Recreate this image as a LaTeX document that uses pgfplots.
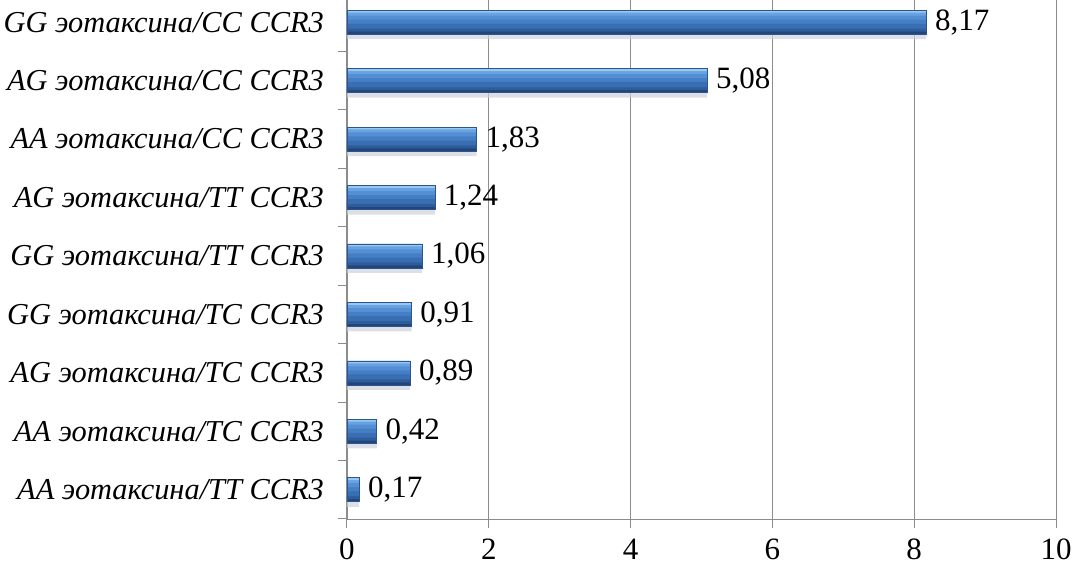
\documentclass[border=0pt]{standalone}
\usepackage{pgfplots}
\pgfplotsset{compat=1.18}
\usepackage{pgfplotstable}
\usepackage{fontspec}
\setmainfont[Script=Cyrillic,Language=Russian]{Liberation Serif}
\definecolor{s1}{RGB}{150,200,240}
\definecolor{s2}{RGB}{104,162,226}
\definecolor{s3}{RGB}{84,143,212}
\definecolor{s4}{RGB}{68,126,196}
\definecolor{s5}{RGB}{57,110,178}
\definecolor{s6}{RGB}{46,93,156}
\definecolor{s7}{RGB}{34,70,122}
\definecolor{barline}{RGB}{45,85,140}
\definecolor{shadowc}{RGB}{205,210,218}
\definecolor{gridgray}{RGB}{140,140,140}
\pgfplotstableread{
y value
0 0.17
1 0.42
2 0.89
3 0.91
4 1.06
5 1.24
6 1.83
7 5.08
8 8.17
}\datatable
\begin{document}
\begin{tikzpicture}
\begin{axis}[
  at={(173.5pt,23.5pt)}, anchor=south west,
  scale only axis,
  width=354.5pt, height=259.5pt,
  xbar,
  xmin=0, xmax=10, ymin=-0.5, ymax=8.38,
  axis lines=left, axis line style={draw=gridgray, -},
  xtick={0,2,4,6,8,10},
  xmajorgrids, grid style={gridgray, line width=0.5pt},
  tick align=outside,
  major tick length=4.5pt,
  tick style={gridgray, line width=0.5pt},
  ytick={-0.5,0.5,...,7.5}, yticklabels={},
  extra y ticks={0,1,2,3,4,5,6,7,8},
  extra y tick labels={
    \textit{AA эотаксина/TT CCR3},
    \textit{AA эотаксина/TC CCR3},
    \textit{AG эотаксина/TC CCR3},
    \textit{GG эотаксина/TC CCR3},
    \textit{GG эотаксина/TT CCR3},
    \textit{AG эотаксина/TT CCR3},
    \textit{AA эотаксина/CC CCR3},
    \textit{AG эотаксина/CC CCR3},
    \textit{GG эотаксина/CC CCR3}},
  extra y tick style={major tick length=0pt, yticklabel style={xshift=-8pt}},
  yticklabel style={font=\fontsize{15.2}{17}\selectfont, anchor=east},
  xticklabel style={font=\fontsize{15.5}{17}\selectfont, yshift=-2pt},
  /pgf/number format/assume math mode=true,
  /pgf/number format/use comma,
  point meta=x,
]
\addplot[draw=none, fill=shadowc, opacity=0.7, bar width=12pt, bar shift=-2.5pt] table[x=value, y=y] {\datatable};
\addplot[draw=none, fill=s4, bar width=12pt, bar shift=0pt] table[x=value, y=y] {\datatable};
\addplot[draw=none, fill=s7, bar width=1.9pt, bar shift=-5.05pt] table[x=value, y=y] {\datatable};
\addplot[draw=none, fill=s6, bar width=1.9pt, bar shift=-3.75pt] table[x=value, y=y] {\datatable};
\addplot[draw=none, fill=s5, bar width=2.4pt, bar shift=-2pt] table[x=value, y=y] {\datatable};
\addplot[draw=none, fill=s3, bar width=2.4pt, bar shift=2.5pt] table[x=value, y=y] {\datatable};
\addplot[draw=none, fill=s2, bar width=1.9pt, bar shift=4.25pt] table[x=value, y=y] {\datatable};
\addplot[draw=none, fill=s1, bar width=1.2pt, bar shift=5.4pt] table[x=value, y=y] {\datatable};
\addplot[draw=barline, fill=none, line width=0.3pt, bar width=12pt, bar shift=0pt,
  nodes near coords={\pgfmathprintnumber[fixed,fixed zerofill,precision=2]{\pgfplotspointmeta}},
  nodes near coords align=horizontal,
  every node near coord/.append style={font=\fontsize{15.5}{17}\selectfont, black, xshift=1pt}]
  table[x=value, y=y] {\datatable};
\end{axis}
\pgfresetboundingbox
\path[use as bounding box] (0,0) rectangle (541.5pt,283pt);
\end{tikzpicture}
\end{document}
